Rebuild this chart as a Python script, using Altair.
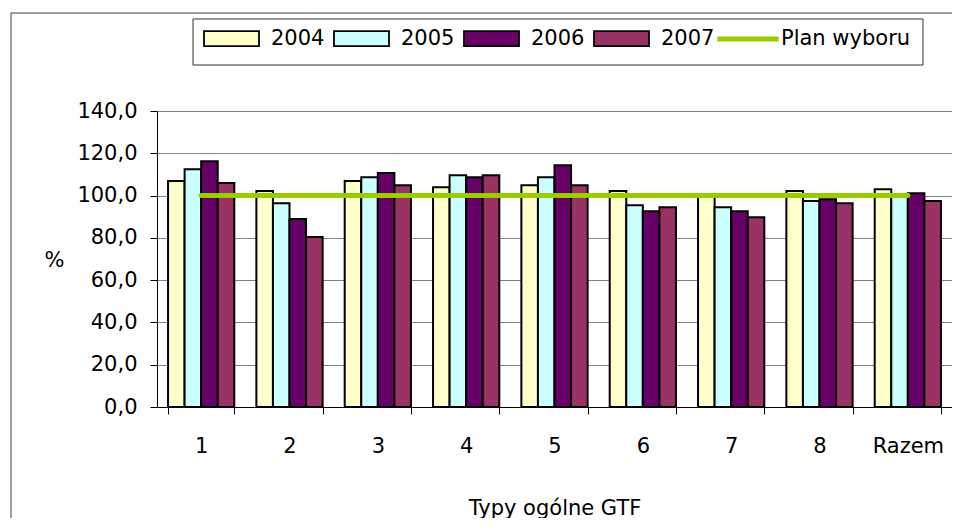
import altair as alt
import pandas as pd

categories = ["1", "2", "3", "4", "5", "6", "7", "8", "Razem"]
years = ["2004", "2005", "2006", "2007"]
v2004 = [106.9, 102.2, 106.9, 103.9, 104.9, 102.2, 100.2, 102.2, 103.0]
v2005 = [112.4, 96.4, 108.7, 109.6, 108.7, 95.4, 94.5, 97.4, 100.1]
v2006 = [116.2, 88.9, 110.7, 108.7, 114.3, 92.6, 92.6, 98.3, 101.1]
v2007 = [106.0, 80.4, 104.9, 109.6, 104.9, 94.5, 89.7, 96.4, 97.4]
plan_label = "Plan wyboru"
plan = [100.0, 100.0, 100.0, 100.0, 100.0, 100.0, 100.0, 100.0, 100.0]
year_colors = ["#FFFFCC", "#CCFFFF", "#660066", "#993366"]
plan_color = "#99CC00"
y_ticks = [0, 20, 40, 60, 80, 100, 120, 140]
x_title = "Typy ogólne GTF"
y_title = "%"

FONT = "DejaVu Sans"
FS = 21

rows = []
for yr, vals in zip(years, [v2004, v2005, v2006, v2007]):
    for c, v in zip(categories, vals):
        rows.append({"kat": c, "seria": yr, "wartosc": v})
bars_df = pd.DataFrame(rows)
line_df = pd.DataFrame({"kat": categories, "seria": [plan_label] * len(categories), "wartosc": plan})

rect_path = "M-3.235,-0.882H3.235V0.882H-3.235Z"
line_path = "M-3.6,0H3.6"

LEG_X, LEG_Y, LEG_PAD = 36, -92, 9

year_legend = alt.Legend(
    title=None, orient="none", direction="horizontal", legendX=LEG_X, legendY=LEG_Y,
    padding=LEG_PAD, columnPadding=5, symbolSize=289, symbolOffset=19, labelOffset=29,
    labelFont=FONT, labelFontSize=FS, labelColor="black",
    symbolType=rect_path, symbolStrokeColor="black", symbolStrokeWidth=1.8, symbolOpacity=1,
)
plan_legend = alt.Legend(
    title=None, orient="none", direction="horizontal", legendX=558, legendY=LEG_Y + LEG_PAD,
    padding=0, symbolSize=289, symbolOffset=22, labelOffset=22,
    labelFont=FONT, labelFontSize=FS, labelColor="black",
    symbolType=line_path, symbolStrokeWidth=5, symbolOpacity=1,
)

x_enc = alt.X(
    "kat:N", sort=categories,
    scale=alt.Scale(paddingInner=0.25, paddingOuter=0.125),
    axis=alt.Axis(
        title=x_title, labelAngle=0, tickBand="extent", grid=False,
        domainColor="black", tickColor="black", tickSize=7, labelPadding=21,
        labelFont=FONT, labelFontSize=FS, labelColor="black",
        titleFont=FONT, titleFontSize=FS, titleFontWeight="normal", titleColor="black",
        titleY=101, titleBaseline="middle",
    ),
)
y_enc = alt.Y(
    "wartosc:Q", scale=alt.Scale(domain=[0, 140]),
    axis=alt.Axis(
        values=y_ticks, labelExpr="replace(format(datum.value, '.1f'), '.', ',')",
        title=y_title, titleAngle=0, titleX=-103, titleY=149, titleAlign="center",
        titleBaseline="middle", titleFont=FONT, titleFontSize=FS, titleFontWeight="normal",
        titleColor="black", gridColor="#808080", gridWidth=1, domainColor="black",
        tickColor="black", tickSize=7, labelPadding=13, labelFont=FONT,
        labelFontSize=FS, labelColor="black",
    ),
)

deco = pd.DataFrame({"a": [0]})
frame = alt.Chart(deco).mark_rect(
    fillOpacity=0, stroke="#404040", strokeWidth=1
).encode(x=alt.value(-146), x2=alt.value(900), y=alt.value(-98), y2=alt.value(500))

legend_box = alt.Chart(deco).mark_rect(
    fill="white", stroke="#333333", strokeWidth=1
).encode(x=alt.value(LEG_X), x2=alt.value(766), y=alt.value(LEG_Y), y2=alt.value(-46))

bars = alt.Chart(bars_df).mark_bar(stroke="black", strokeWidth=2).encode(
    x=x_enc,
    xOffset=alt.XOffset("seria:N", sort=years, scale=alt.Scale(paddingInner=0, paddingOuter=0)),
    y=y_enc,
    fill=alt.Fill("seria:N", scale=alt.Scale(domain=years, range=year_colors), legend=year_legend),
)

line = alt.Chart(line_df).mark_line(strokeWidth=5, strokeCap="round").encode(
    x=alt.X("kat:N", sort=categories),
    y=alt.Y("wartosc:Q"),
    stroke=alt.Stroke("seria:N", scale=alt.Scale(domain=[plan_label], range=[plan_color]), legend=plan_legend),
)

chart = alt.layer(frame, legend_box, bars, line).properties(
    width=795, height=296,
    autosize=alt.AutoSizeParams(type="none"),
    padding={"left": 149, "top": 103, "right": 0, "bottom": 111},
).configure_view(stroke=None)

chart.save("out.html", embed_options={"renderer": "svg", "actions": False})
